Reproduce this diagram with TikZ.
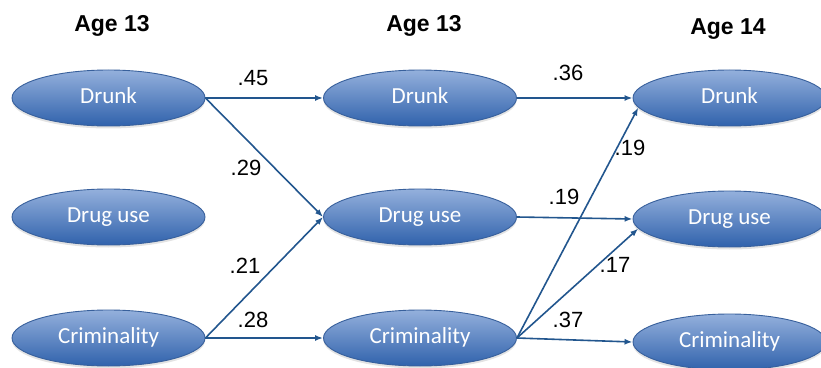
\documentclass[tikz,border=0pt]{standalone}
\usepackage{fontspec}
\setmainfont{Liberation Sans}
\newfontfamily\calfont{Carlito}
\usepackage{xcolor}
\usepackage{tikz}
\usetikzlibrary{arrows.meta,shapes.geometric,shadows}
\definecolor{cvtop}{RGB}{148,176,220}
\definecolor{cvbot}{RGB}{48,98,172}
\definecolor{cvline}{RGB}{56,96,156}
\definecolor{cpath}{RGB}{34,86,142}

\begin{document}
\begin{tikzpicture}[x=1pt,y=1pt,
  var/.style={ellipse,draw=cvline,line width=0.9pt,top color=cvtop,bottom color=cvbot,
    minimum width=193pt,minimum height=56pt,inner sep=0pt,text=white,
    font=\calfont\fontsize{23}{26}\selectfont,text height=15pt,text depth=4pt,
    drop shadow={opacity=0.22,shadow xshift=0pt,shadow yshift=-2.5pt}},
  age/.style={font=\bfseries\fontsize{23}{26}\selectfont,anchor=base},
  coef/.style={font=\fontsize{22}{24}\selectfont,inner sep=0pt},
  path/.style={-{Latex[length=8pt,width=6pt]},cpath,line width=1.6pt},
]
\useasboundingbox (0,0) rectangle (821,367);
\clip (0,0) rectangle (821,367);
\node[age] (age1) at (112,335) {Age 13};
\node[age] (age2) at (424,335) {Age 13};
\node[age] (age3) at (728,332) {Age 14};
% age 13, first wave
\node[var] (drk1) at (108.5,269) {Drunk};
\node[var] (drg1) at (108.5,150) {Drug use};
\node[var] (crm1) at (108.5,29) {Criminality};
% age 13, second wave
\node[var] (drk2) at (420,269) {Drunk};
\node[var] (drg2) at (420,150) {Drug use};
\node[var] (crm2) at (420,29) {Criminality};
% age 14
\node[var] (drk3) at (729.5,269) {Drunk};
\node[var] (drg3) at (729.5,148) {Drug use};
\node[var] (crm3) at (729.5,25) {Criminality};
\draw[path] (drk1.east) -- (drk2.west);
\draw[path] (drk1.east) -- (drg2.west);
\draw[path] (crm1.east) -- (drg2.west);
\draw[path] (crm1.east) -- (crm2.west);
\draw[path] (drk2.east) -- (drk3.west);
\draw[path] (drg2.east) -- (drg3.west);
\draw[path] (crm2.east) -- (drk3.186);
\draw[path] (crm2.east) -- (drg3.186);
\draw[path] (crm2.east) -- (crm3.west);
\node[coef] (c1) at (253,289) {.45};
\node[coef] (c2) at (246,199) {.29};
\node[coef] (c3) at (245,101) {.21};
\node[coef] (c4) at (253,47) {.28};
\node[coef] (c5) at (568,294) {.36};
\node[coef] (c6) at (564,170) {.19};
\node[coef] (c7) at (630,219) {.19};
\node[coef] (c8) at (615,102) {.17};
\node[coef] (c9) at (568,47) {.37};
\end{tikzpicture}
\end{document}
